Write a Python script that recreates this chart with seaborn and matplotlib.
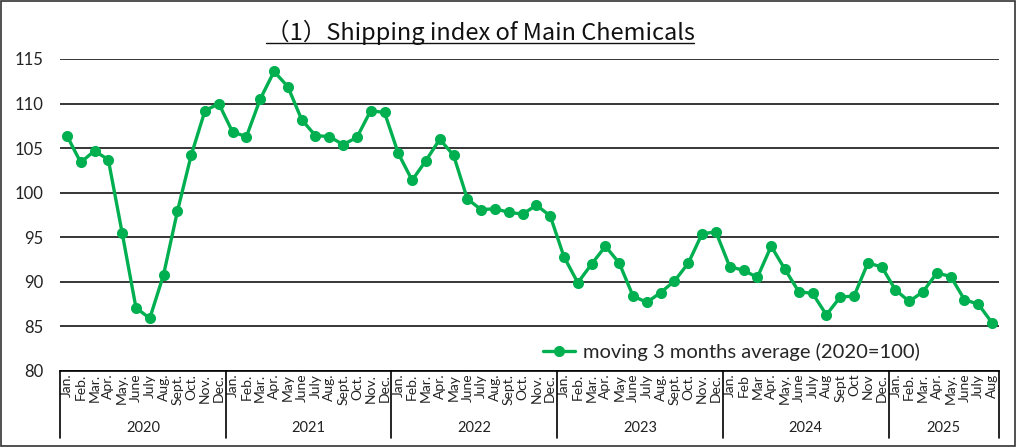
import numpy as np
import pandas as pd
import matplotlib
matplotlib.use("Agg")
import matplotlib.pyplot as plt
import matplotlib.transforms as mtransforms
from matplotlib.lines import Line2D
from matplotlib.patches import Rectangle
import seaborn as sns

# data
years = ["2020", "2021", "2022", "2023", "2024", "2025"]
months_2020 = ["Jan.", "Feb.", "Mar.", "Apr.", "May.", "June", "July", "Aug.", "Sept.", "Oct.", "Nov.", "Dec."]
months_2021 = ["Jan.", "Feb.", "Mar.", "Apr.", "May", "June", "July", "Aug.", "Sept.", "Oct.", "Nov.", "Dec."]
months_2022 = ["Jan.", "Feb.", "Mar.", "Apr.", "May", "June", "July", "Aug.", "Sept.", "Oct.", "Nov.", "Dec."]
months_2023 = ["Jan.", "Feb.", "Mar.", "Apr.", "May", "June", "July", "Aug.", "Sept.", "Oct.", "Nov.", "Dec."]
months_2024 = ["Jan.", "Feb", "Mar", "Apr.", "May.", "June", "July", "Aug", "Sept", "Oct", "Nov", "Dec."]
months_2025 = ["Jan.", "Feb.", "Mar.", "Apr.", "May.", "June", "July", "Aug"]

v2020 = [106.4, 103.4, 104.7, 103.7, 95.5, 87.1, 85.9, 90.8, 97.9, 104.2, 109.2, 110.0]
v2021 = [106.8, 106.3, 110.5, 113.6, 111.9, 108.2, 106.4, 106.3, 105.4, 106.2, 109.2, 109.0]
v2022 = [104.4, 101.4, 103.6, 106.0, 104.2, 99.3, 98.1, 98.2, 97.8, 97.6, 98.6, 97.4]
v2023 = [92.8, 89.9, 92.0, 94.0, 92.1, 88.4, 87.7, 88.8, 90.1, 92.1, 95.4, 95.6]
v2024 = [91.7, 91.3, 90.5, 94.0, 91.4, 88.9, 88.7, 86.3, 88.3, 88.4, 92.1, 91.7]
v2025 = [89.1, 87.8, 88.9, 91.0, 90.6, 88.0, 87.5, 85.4]

month_lists = [months_2020, months_2021, months_2022, months_2023, months_2024, months_2025]
value_lists = [v2020, v2021, v2022, v2023, v2024, v2025]

labels = [m for ml in month_lists for m in ml]
values = [v for vl in value_lists for v in vl]
df = pd.DataFrame({"idx": np.arange(len(values)), "value": values})

green = "#00B050"

sns.set_theme(style="white")
plt.rcParams["font.family"] = ["Lato", "DejaVu Sans"]

fig = plt.figure(figsize=(10.2, 4.48), dpi=100)
ax = fig.add_axes([60 / 1020, 77 / 448, 939 / 1020, 312 / 448])

sns.lineplot(data=df, x="idx", y="value", ax=ax, color=green, lw=2.4,
             marker="o", markersize=8, markeredgewidth=0,
             label="moving 3 months average (2020=100)")

ax.set_xlim(-0.5, len(values) - 0.5)
ax.set_ylim(80, 115)
ax.set_yticks(np.arange(80, 116, 5))
ax.tick_params(axis="y", labelsize=12, length=0, pad=12, colors="#222222")
ax.yaxis.grid(True, color="black", lw=1.1)
ax.set_axisbelow(True)
ax.set_xticks(df["idx"])
ax.set_xticklabels(labels, rotation=90, fontsize=10, va="top")
ax.tick_params(axis="x", length=0, pad=2, colors="#222222")
ax.set_xlabel("")
ax.set_ylabel("")
for s in ["left", "top", "right"]:
    ax.spines[s].set_visible(False)
ax.spines["bottom"].set_color("black")
ax.spines["bottom"].set_linewidth(1.2)

# year group separators and labels under the axis
trans = mtransforms.blended_transform_factory(ax.transData, ax.transAxes)
start = 0
bounds = [-0.5]
for yr, ml in zip(years, month_lists):
    end = start + len(ml)
    bounds.append(end - 0.5)
    ax.text((start + end - 1) / 2, -0.183, yr, transform=trans,
            ha="center", va="center", fontsize=10.5, color="#222222")
    start = end
for b in bounds:
    ax.plot([b, b], [0, -0.215], transform=trans, color="black", lw=1.2, clip_on=False)

leg = ax.legend(loc="lower right", bbox_to_anchor=(0.935, -0.025), frameon=False,
                fontsize=14.5, handlelength=1.6, handletextpad=0.4)

# title with underline
title = fig.text(480 / 1020, 1 - 32 / 448, "（1）Shipping index of Main Chemicals",
                 ha="center", va="center", fontsize=17,
                 family=["Noto Sans CJK JP", "DejaVu Sans"], color="#111111")
fig.canvas.draw()
bb = title.get_window_extent().transformed(fig.transFigure.inverted())
fig.add_artist(Line2D([bb.x0, bb.x1], [bb.y0 + 0.004, bb.y0 + 0.004],
                      transform=fig.transFigure, color="#111111", lw=1.0))

# outer frame
fig.add_artist(Rectangle((1.5 / 1020, 2.5 / 448), 1014 / 1020, 444 / 448,
                         transform=fig.transFigure, fill=False,
                         edgecolor="#333333", lw=1.2))

fig.savefig("out.png", dpi=100)
